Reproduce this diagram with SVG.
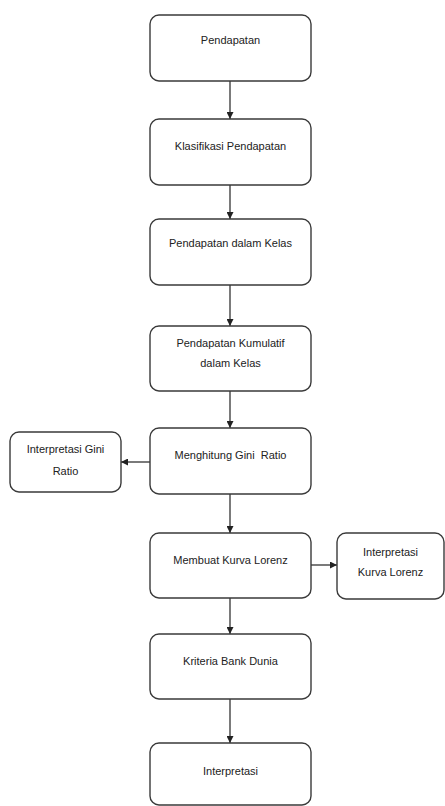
<svg xmlns="http://www.w3.org/2000/svg" width="445" height="806" viewBox="0 0 445 806">
<defs>
<style>
.box{fill:#fff;stroke:#3a3a3a;stroke-width:1.4}
.t{font-family:"Liberation Sans",Arial,sans-serif;font-size:11px;fill:#222;text-anchor:middle}
.c{stroke:#222;stroke-width:1.2;fill:none;marker-end:url(#ah)}
</style>
<marker id="ah" viewBox="0 0 10 10" refX="10" refY="5" markerWidth="7" markerHeight="7" markerUnits="userSpaceOnUse" orient="auto">
<path d="M0,0 L10,5 L0,10 z" fill="#222"/>
</marker>
</defs>
<rect width="445" height="806" fill="#fff"/>
<g id="connectors">
<line class="c" x1="230" y1="81" x2="230" y2="119"/>
<line class="c" x1="230" y1="185" x2="230" y2="219"/>
<line class="c" x1="230" y1="285" x2="230" y2="326"/>
<line class="c" x1="230" y1="391" x2="230" y2="428"/>
<line class="c" x1="150" y1="462" x2="121" y2="462"/>
<line class="c" x1="230" y1="494" x2="230" y2="533"/>
<line class="c" x1="311" y1="565" x2="337" y2="565"/>
<line class="c" x1="230" y1="598" x2="230" y2="634"/>
<line class="c" x1="230" y1="699" x2="230" y2="743"/>
</g>
<g id="n1"><rect class="box" x="150" y="15" width="161" height="66" rx="9"/><text class="t" x="230.5" y="44">Pendapatan</text></g>
<g id="n2"><rect class="box" x="150" y="119" width="161" height="66" rx="9"/><text class="t" x="230.5" y="150">Klasifikasi Pendapatan</text></g>
<g id="n3"><rect class="box" x="150" y="219" width="161" height="66" rx="9"/><text class="t" x="230.5" y="247">Pendapatan dalam Kelas</text></g>
<g id="n4"><rect class="box" x="150" y="326" width="161" height="65" rx="9"/><text class="t" x="230.5" y="347">Pendapatan Kumulatif</text><text class="t" x="230.5" y="367">dalam Kelas</text></g>
<g id="n5"><rect class="box" x="150" y="428" width="161" height="66" rx="9"/><text class="t" x="230.5" y="459" xml:space="preserve">Menghitung Gini  Ratio</text></g>
<g id="n6"><rect class="box" x="10" y="432" width="111" height="60" rx="9"/><text class="t" x="65.5" y="453">Interpretasi Gini</text><text class="t" x="65.5" y="475">Ratio</text></g>
<g id="n7"><rect class="box" x="150" y="533" width="161" height="65" rx="9"/><text class="t" x="230.5" y="564">Membuat Kurva Lorenz</text></g>
<g id="n8"><rect class="box" x="337" y="533" width="107" height="66" rx="9"/><text class="t" x="390.5" y="556">Interpretasi</text><text class="t" x="390.5" y="576">Kurva Lorenz</text></g>
<g id="n9"><rect class="box" x="150" y="634" width="161" height="65" rx="9"/><text class="t" x="230.5" y="665">Kriteria Bank Dunia</text></g>
<g id="n10"><rect class="box" x="150" y="743" width="161" height="62" rx="9"/><text class="t" x="230.5" y="775">Interpretasi</text></g>
</svg>
